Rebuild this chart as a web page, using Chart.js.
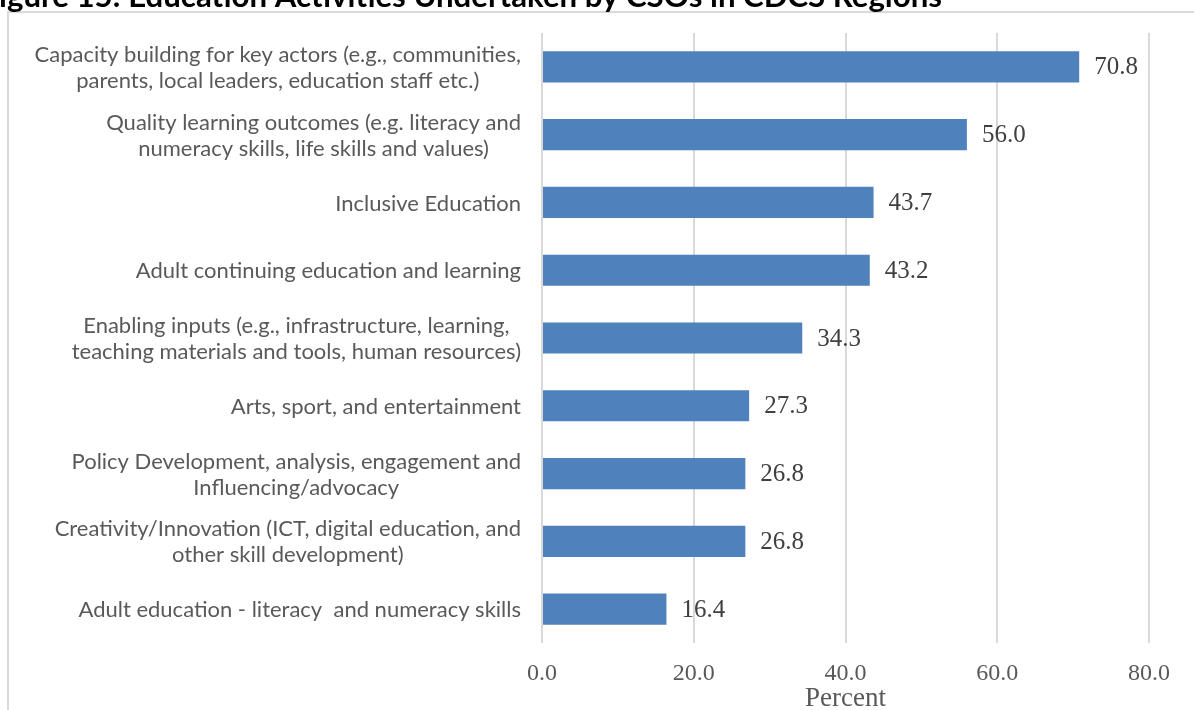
<!DOCTYPE html>
<html>
<head>
<meta charset="utf-8">
<script src="https://cdn.jsdelivr.net/npm/chart.js@4.4.1/dist/chart.umd.min.js"></script>
<style>
  body { margin: 0; background: #fff; }
  #wrap { width: 1194px; height: 710px; position: relative; }
</style>
</head>
<body>
<div id="wrap"><canvas id="barChart" width="1194" height="710"></canvas></div>
<script>
// data
var figureTitle = "Figure 15: Education Activities Undertaken by CSOs in CDCS Regions";
var categories = [
    ["Capacity building for key actors (e.g., communities,", "parents, local leaders, education staff etc.)"],
    ["Quality learning outcomes (e.g. literacy and", "numeracy skills, life skills and values)"],
    ["Inclusive Education"],
    ["Adult continuing education and learning"],
    ["Enabling inputs (e.g., infrastructure, learning,", "teaching materials and tools, human resources)"],
    ["Arts, sport, and entertainment"],
    ["Policy Development, analysis, engagement and", "Influencing/advocacy"],
    ["Creativity/Innovation (ICT, digital education, and", "other skill development)"],
    ["Adult education - literacy  and numeracy skills"]
];
var percentValues = [70.8, 56.0, 43.7, 43.2, 34.3, 27.3, 26.8, 26.8, 16.4];
var axisMin = 0, axisMax = 80, axisStep = 20;
var axisTitle = "Percent";

var labelFont = "22px Lato";
var serif = "'Liberation Serif', serif";

// frame + cut-off figure title
var framePlugin = {
    id: 'frame',
    beforeDraw: function(chart){
        var ctx = chart.ctx;
        ctx.save();
        ctx.strokeStyle = '#d9d9d9';
        ctx.lineWidth = 2;
        ctx.beginPath();
        ctx.moveTo(8, 710);
        ctx.lineTo(8, 12);
        ctx.lineTo(1194, 12);
        ctx.stroke();

        // title: right end at x=942, the "F" falls off the left edge
        ctx.font = "bold 100px Lato";
        var w = ctx.measureText(figureTitle.substring(1)).width;
        var size = 100 * 942 / w;
        ctx.font = "bold " + size.toFixed(1) + "px Lato";
        ctx.fillStyle = '#000';
        ctx.textAlign = 'right';
        ctx.textBaseline = 'alphabetic';
        ctx.fillText(figureTitle, 942, 7);
        ctx.restore();
    }
};

// category labels, lines centred on each other, block right-aligned
var catLabelPlugin = {
    id: 'catLabels',
    afterDraw: function(chart){
        var ctx = chart.ctx;
        var yScale = chart.scales.y;
        var right = chart.chartArea.left - 21;
        ctx.save();
        ctx.font = labelFont;
        ctx.fillStyle = '#595959';
        ctx.textAlign = 'center';
        ctx.textBaseline = 'middle';
        categories.forEach(function(lines, i){
            var y = yScale.getPixelForValue(i) + 1;
            var maxW = 0;
            lines.forEach(function(l){ maxW = Math.max(maxW, ctx.measureText(l).width); });
            var cx = right - maxW / 2;
            var y0 = y - (lines.length - 1) * 13;
            lines.forEach(function(l, k){ ctx.fillText(l, cx, y0 + k * 26); });
        });
        ctx.restore();
    }
};

// value labels at bar ends
var valueLabelPlugin = {
    id: 'valueLabels',
    afterDatasetsDraw: function(chart){
        var ctx = chart.ctx;
        var meta = chart.getDatasetMeta(0);
        ctx.save();
        ctx.font = "25px " + serif;
        ctx.fillStyle = '#404040';
        ctx.textAlign = 'left';
        ctx.textBaseline = 'middle';
        meta.data.forEach(function(bar, i){
            ctx.fillText(percentValues[i].toFixed(1), bar.x + 15, bar.y + 1);
        });
        ctx.restore();
    }
};

window.onload = function(){
    var ctxB = document.getElementById("barChart").getContext('2d');
    var myBarChart = new Chart(ctxB, {
        type: 'bar',
        data: {
            labels: categories,
            datasets: [{
                data: percentValues,
                backgroundColor: '#4f81bd',
                borderWidth: 0,
                barPercentage: 0.46,
                categoryPercentage: 1.0
            }]
        },
        options: {
            indexAxis: 'y',
            responsive: false,
            animation: false,
            layout: { padding: { top: 33, right: 45, left: 0, bottom: 0 } },
            plugins: {
                legend: { display: false },
                tooltip: { enabled: false }
            },
            scales: {
                x: {
                    min: axisMin,
                    max: axisMax,
                    ticks: {
                        stepSize: axisStep,
                        padding: 16,
                        color: '#595959',
                        font: { family: serif, size: 24 },
                        callback: function(v){ return Number(v).toFixed(1); }
                    },
                    grid: { color: '#d9d9d9', lineWidth: 2, drawTicks: false },
                    border: { display: false },
                    title: {
                        display: true,
                        text: axisTitle,
                        color: '#595959',
                        font: { family: serif, size: 27, lineHeight: 0.8 },
                        padding: { top: 0, bottom: 0 }
                    },
                    afterFit: function(scale){ scale.height = 67; }
                },
                y: {
                    ticks: { display: false },
                    grid: { display: false },
                    border: { display: false },
                    afterFit: function(scale){ scale.width = 542; }
                }
            }
        },
        plugins: [framePlugin, catLabelPlugin, valueLabelPlugin]
    });
};
</script>
</body>
</html>
